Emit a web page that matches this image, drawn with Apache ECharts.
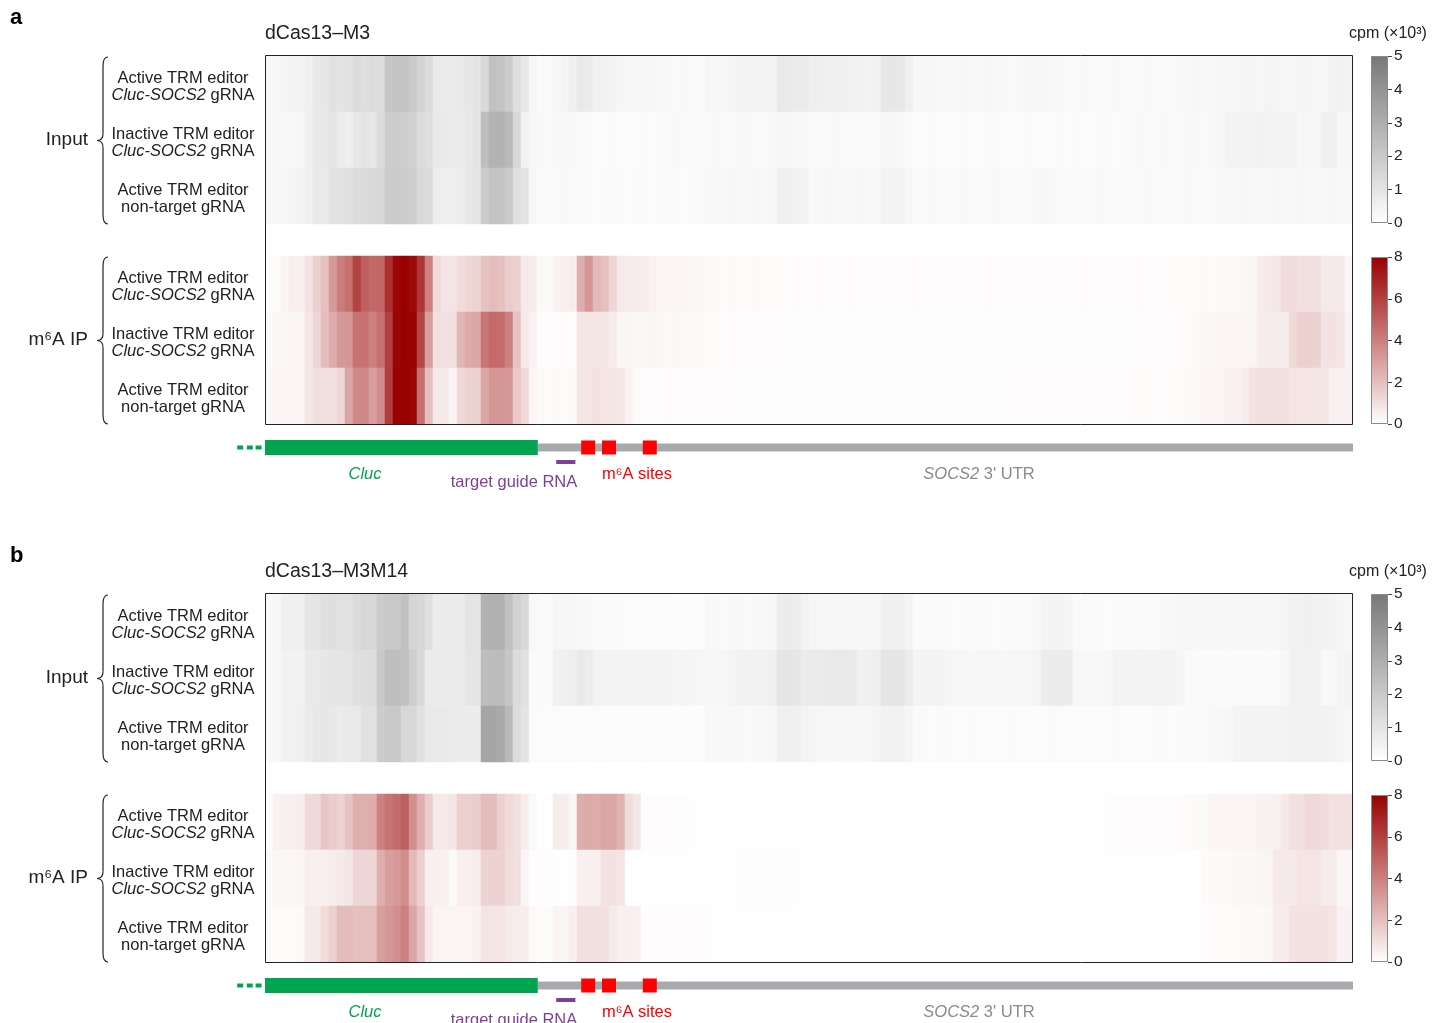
<!DOCTYPE html>
<html>
<head>
<meta charset="utf-8">
<title>dCas13–M3 / dCas13–M3M14 coverage</title>
<script src="https://cdn.jsdelivr.net/npm/echarts@6/dist/echarts.min.js"></script>
<style>
html, body { margin: 0; padding: 0; background: #ffffff; }
#chart { width: 1445px; height: 1023px; }
</style>
</head>
<body>
<div id="chart"></div>
<script>
// Coverage (cpm ×10³) in 136 equal bins along the Cluc–SOCS2 3' UTR reporter transcript.
const binCount = 136;

// ---- panel a: dCas13–M3 ----
const aInputActive = [
  0.3,0.35,0.4,0.4,0.45,0.55,0.8,0.9,1.1,1.0,1.1,1.3,1.2,1.3,1.3,2.1,2.2,2.2,2.0,1.6,1.3,0.8,0.7,0.7,0.8,0.9,1.0,1.4,2.3,2.2,1.9,1.2,0.9,0.35,0.2,0.2,0.3,0.4,0.55,0.8,0.75,0.55,0.5,0.4,0.35,0.35,0.3,0.35,0.3,0.25,0.25,0.2,0.25,0.2,0.2,
  0.35,0.35,0.35,0.4,0.4,0.45,0.45,0.4,0.45,0.85,0.8,0.75,0.75,0.6,0.6,0.55,0.55,0.55,0.5,0.5,0.45,0.5,0.9,0.9,0.85,0.6,0.3,0.3,0.3,0.25,
  0.25,0.25,0.3,0.25,0.25,0.3,0.25,0.25,0.2,0.25,0.3,0.35,0.3,0.25,0.25,0.2,0.2,0.25,0.2,0.2,0.2,0.25,0.2,0.2,0.2,0.25,0.2,0.2,0.2,
  0.25,0.25,0.3,0.25,0.25,0.3,0.35,0.35,0.4,0.35,0.35,0.4,0.35,0.35,0.35,0.4,0.35,0.35,0.35,0.45,0.5,0.45
];
const aInputInactive = [
  0.35,0.3,0.25,0.25,0.35,0.6,0.8,0.85,0.95,0.7,0.6,0.9,1.0,0.9,1.3,1.9,1.9,1.8,1.7,1.3,1.2,0.85,0.8,0.75,0.7,0.85,1.0,2.4,2.8,2.8,2.6,1.5,0.5,0.3,0.25,0.2,0.25,0.25,0.25,0.2,0.2,0.15,0.15,0.2,0.15,0.15,0.15,0.2,0.15,0.2,0.2,0.25,0.2,0.2,0.2,
  0.2,0.25,0.2,0.2,0.25,0.25,0.2,0.2,0.25,0.3,0.3,0.25,0.25,0.2,0.2,0.2,0.25,0.2,0.2,0.2,0.2,0.2,0.3,0.3,0.25,0.2,
  0.15,0.15,0.2,0.15,0.15,0.15,0.2,0.15,0.15,0.2,0.2,0.15,0.15,0.15,0.2,0.15,0.15,0.15,0.2,
  0.15,0.2,0.15,0.15,0.2,0.2,0.15,0.2,0.2,0.25,0.2,0.2,0.25,0.2,0.2,0.25,0.25,0.2,0.25,0.3,
  0.45,0.45,0.4,0.45,0.5,0.45,0.4,0.45,0.4,0.3,0.3,0.35,0.55,0.55,0.3,0.3
];
const aInputNonTarget = [
  0.3,0.35,0.35,0.4,0.4,0.55,0.8,0.8,1.05,1.1,1.2,1.3,1.35,1.4,1.5,1.9,1.95,1.9,1.8,1.4,1.3,0.65,0.6,0.6,0.65,0.9,0.95,1.9,2.2,2.2,2.0,1.2,1.0,0.3,0.2,0.2,0.2,0.25,0.2,0.2,0.2,0.15,0.2,0.2,0.2,0.15,0.2,0.2,0.15,0.2,0.2,0.2,0.15,0.2,0.2,
  0.25,0.25,0.25,0.3,0.25,0.25,0.3,0.25,0.3,0.55,0.55,0.5,0.45,0.25,0.25,0.3,0.25,0.25,0.25,0.3,0.25,0.25,0.45,0.45,0.4,0.3,
  0.2,0.2,0.25,0.2,0.2,0.2,0.25,0.2,0.2,0.2,0.25,0.2,0.2,0.2,0.2,0.25,0.3,0.25,0.2,0.2,
  0.2,0.2,0.2,0.25,0.2,0.2,0.2,0.2,0.2,0.25,0.2,0.2,0.2,0.2,0.25,0.2,0.2,0.2,0.25,0.25,
  0.25,0.3,0.25,0.25,0.25,0.3,0.25,0.25,0.3,0.25,0.25,0.25,0.3,0.25,0.25
];
const aIpActive = [
  0.1,0.15,0.3,0.5,0.5,0.9,1.5,2.0,3.2,4.1,4.5,5.9,5.0,4.7,4.8,6.5,7.8,8.0,7.7,6.3,4.0,1.2,0.85,0.85,1.1,1.3,1.4,1.9,2.1,2.0,1.6,1.5,0.7,0.6,0.2,0.2,0.4,0.5,0.6,2.5,3.3,2.2,2.0,1.3,0.7,0.65,0.6,0.55,0.4,0.35,0.35,0.3,0.3,0.25,0.25,
  0.2,0.2,0.15,0.2,0.15,0.15,0.2,0.15,0.15,0.15,0.1,0.15,0.1,0.1,0.15,0.1,0.1,0.1,0.15,0.1,
  0.1,0.1,0.1,0.1,0.1,0.1,0.15,0.1,0.1,0.1,0.1,0.1,0.1,0.1,0.1,0.15,0.1,0.1,0.1,0.1,
  0.1,0.1,0.1,0.1,0.1,0.1,0.1,0.15,0.1,0.1,0.1,0.1,0.1,0.1,0.15,0.1,0.1,0.1,0.15,0.15,
  0.15,0.15,0.2,0.15,0.2,0.2,0.2,0.25,0.3,0.6,0.7,0.75,1.1,1.1,1.0,1.0,1.0,0.7,0.7,0.7,0.3
];
const aIpInactive = [
  0.2,0.25,0.25,0.3,0.35,0.8,1.3,2.1,2.6,3.2,3.3,4.4,4.4,4.0,4.5,6.0,7.8,8.0,7.9,5.8,3.0,1.0,0.95,1.0,2.3,2.7,2.8,4.3,4.7,4.6,4.0,1.9,0.7,0.4,0.1,0.1,0.1,0.15,0.1,0.85,0.8,0.85,0.8,0.6,0.3,0.3,0.25,0.25,0.3,0.25,0.2,0.25,0.2,0.2,0.2,
  0.15,0.15,0.1,0.15,0.1,0.1,0.1,0.1,0.1,0.1,0.05,0.1,0.05,0.05,0.05,0.1,0.05,0.05,0.05,0.05,
  0.05,0.05,0.05,0.05,0.05,0.05,0.05,0.05,0.05,0.05,0.05,0.05,0.05,0.05,0.05,0.05,0.05,0.05,0.05,0.05,
  0.05,0.05,0.05,0.05,0.05,0.05,0.05,0.05,0.05,0.05,0.05,0.05,0.05,0.1,0.1,0.1,0.1,0.1,0.1,0.15,
  0.15,0.2,0.25,0.25,0.3,0.3,0.3,0.3,0.35,0.55,0.6,0.6,0.6,1.2,1.5,1.5,1.4,0.9,0.9,0.8,0.4
];
const aIpNonTarget = [
  0.25,0.3,0.3,0.3,0.35,0.8,1.0,1.0,1.0,1.3,2.8,3.7,3.7,3.0,3.6,6.1,7.9,8.0,7.8,4.5,2.0,0.7,0.7,0.35,1.2,1.4,1.4,2.8,3.3,3.3,3.2,1.7,1.2,0.3,0.15,0.15,0.2,0.15,0.2,0.85,0.85,0.9,0.85,0.8,0.75,0.4,0.15,0.1,0.1,0.1,0.15,0.1,0.1,0.1,0.1,
  0.1,0.1,0.1,0.1,0.05,0.05,0.05,0.05,0.05,0.05,0.05,0.05,0.05,0.05,0.05,0.05,0.05,0.05,0.05,0.05,
  0.05,0.05,0.05,0.05,0.05,0.05,0.05,0.05,0.05,0.05,0.05,0.05,0.05,0.05,0.05,0.05,0.05,0.1,0.1,0.1,
  0.1,0.1,0.1,0.1,0.1,0.1,0.1,0.1,0.1,0.1,0.1,0.1,0.1,0.15,0.15,0.15,0.1,0.1,0.15,0.15,
  0.2,0.2,0.3,0.3,0.35,0.4,0.4,0.6,0.9,1.0,1.0,1.0,1.0,0.85,0.85,0.85,0.85,0.8,0.5,0.4,0.4
];

// ---- panel b: dCas13–M3M14 ----
const bInputActive = [
  0.25,0.3,0.55,0.55,0.55,0.95,1.0,1.15,1.2,1.1,1.1,1.3,1.5,1.5,1.9,2.0,2.0,2.3,1.6,1.5,1.2,0.7,0.7,0.7,0.75,1.0,1.0,2.8,2.9,2.9,2.3,1.7,1.4,0.25,0.2,0.2,0.35,0.35,0.3,0.25,0.25,0.2,0.2,0.2,0.2,0.15,0.15,0.15,0.15,0.15,0.15,0.1,0.1,0.1,0.1,
  0.25,0.25,0.2,0.25,0.25,0.2,0.25,0.25,0.3,0.7,0.7,0.65,0.5,0.35,0.35,0.3,0.35,0.35,0.3,0.35,0.35,0.35,0.55,0.55,0.55,0.4,
  0.2,0.2,0.2,0.2,0.2,0.15,0.2,0.2,0.2,0.2,0.15,0.2,0.2,0.2,0.2,0.25,0.4,0.4,0.4,0.35,
  0.2,0.2,0.2,0.2,0.15,0.2,0.2,0.2,0.2,0.2,0.2,0.25,0.25,
  0.35,0.35,0.3,0.35,0.35,0.35,0.3,0.35,0.35,0.35,0.35,0.3,0.35,0.4,0.5,0.5,0.55,0.5,0.5,0.45,0.35,0.35
];
const bInputInactive = [
  0.25,0.3,0.5,0.5,0.5,0.8,0.8,0.9,0.95,0.95,1.0,1.2,1.2,1.25,2.0,2.4,2.4,2.3,1.8,1.4,0.75,0.7,0.7,0.7,0.75,0.95,0.95,2.4,2.5,2.5,2.1,1.3,1.1,0.2,0.2,0.2,0.55,0.55,0.6,0.8,0.65,0.5,0.45,0.45,0.45,0.45,0.4,0.4,0.4,0.4,0.4,0.35,0.4,0.35,0.35,
  0.35,0.35,0.35,0.4,0.5,0.5,0.5,0.5,0.55,0.95,0.95,0.9,0.75,0.75,0.75,0.8,0.8,0.8,0.8,0.55,0.55,0.6,0.95,0.95,0.95,0.7,
  0.4,0.4,0.4,0.4,0.35,0.35,0.35,0.3,0.35,0.35,0.35,0.3,0.35,0.35,0.35,0.4,0.7,0.7,0.7,0.7,
  0.25,0.25,0.25,0.25,0.3,0.45,0.45,0.45,0.4,0.45,0.45,0.45,0.45,0.35,
  0.2,0.2,0.2,0.2,0.2,0.2,0.2,0.2,0.2,0.2,0.2,0.2,0.3,0.5,0.5,0.5,0.5,0.25,0.25,0.4,0.4
];
const bInputNonTarget = [
  0.25,0.3,0.5,0.5,0.55,0.75,0.9,0.9,0.85,0.75,0.8,0.8,1.1,1.1,1.9,2.0,2.0,1.5,1.5,1.1,0.8,0.8,0.8,0.75,0.7,0.7,0.7,3.3,3.3,3.2,2.6,1.3,1.0,
  0.2,0.15,0.15,0.15,0.15,0.15,0.1,0.1,0.15,0.15,0.1,0.1,0.1,0.1,0.15,0.1,0.1,0.1,0.1,0.1,0.1,0.1,
  0.25,0.25,0.25,0.25,0.25,0.2,0.25,0.25,0.3,0.55,0.55,0.55,0.45,0.35,0.35,0.3,0.35,0.35,0.35,0.3,0.35,0.4,0.5,0.5,0.5,0.35,
  0.2,0.2,0.15,0.2,0.2,0.15,0.15,0.2,0.15,0.15,0.15,0.15,0.2,0.15,0.15,0.15,0.15,0.2,0.15,0.15,
  0.15,0.15,0.15,0.15,0.15,0.2,0.15,0.15,0.15,0.15,0.2,0.2,0.15,0.2,0.2,0.2,0.2,0.25,0.25,0.3,
  0.4,0.4,0.4,0.4,0.4,0.4,0.45,0.5,0.5,0.5,0.5,0.5,0.45,0.35,0.35
];
const bIpActive = [
  0.1,0.4,0.5,0.5,0.55,1.2,1.2,1.8,1.6,1.4,1.9,2.5,2.5,2.6,4.0,4.4,4.6,5.0,3.5,2.5,1.6,0.7,0.7,0.8,1.5,1.5,1.6,2.1,2.1,1.5,1.2,1.0,0.55,0.2,0.02,0.02,0.6,0.55,0.3,2.6,2.7,2.6,2.8,2.8,2.4,1.1,0.8,0.1,0.1,0.1,0.1,0.1,0.05,0.02,0.02,
  0.03,0.03,0.02,0.02,0.02,0.03,0.02,0.02,0.02,0.02,0.02,0.02,0.02,0.02,0.02,0.02,0.02,0.02,0.02,0.02,
  0.02,0.02,0.02,0.02,0.02,0.02,0.02,0.02,0.02,0.02,0.02,0.02,0.02,0.02,0.02,0.02,0.02,0.02,0.02,0.02,
  0.02,0.02,0.02,0.02,0.03,0.03,0.02,0.02,0.03,0.03,
  0.05,0.08,0.08,0.08,0.08,0.08,0.08,0.08,0.08,0.12,0.15,0.2,0.2,
  0.3,0.3,0.3,0.35,0.35,0.35,0.4,0.4,0.45,0.7,1.0,1.0,1.2,1.2,1.1,0.95,0.95,0.95
];
const bIpInactive = [
  0.2,0.25,0.25,0.25,0.3,0.5,0.5,0.5,0.55,0.7,0.8,1.3,1.3,1.3,2.5,3.0,3.2,3.6,2.2,1.5,0.5,0.5,0.45,0.15,0.5,0.5,0.55,1.4,1.4,1.4,1.1,1.0,0.3,0.1,0.1,0.05,0.02,0.02,0.05,0.5,0.5,0.5,0.9,0.9,0.85,0.02,0.02,0.02,0.02,0.02,0.02,0.02,0.02,0.02,0.02,
  0.03,0.03,0.03,0.03,0.06,0.06,0.06,0.06,0.06,0.06,0.06,0.03,0.03,0.03,0.03,0.03,0.03,0.03,0.03,0.03,
  0.03,0.03,0.03,0.03,0.03,0.03,0.03,0.03,0.03,0.03,0.03,0.03,0.03,0.03,0.03,0.03,0.03,0.03,0.03,0.03,
  0.03,0.03,0.03,0.03,0.03,0.03,0.03,0.03,0.03,0.03,0.03,0.03,0.03,0.03,0.03,0.03,0.03,0.03,0.03,0.03,
  0.03,0.03,
  0.15,0.2,0.2,0.2,0.25,0.25,0.25,0.3,0.35,0.7,0.7,0.7,0.85,0.85,0.85,0.6,0.6,0.3,0.3
];
const bIpNonTarget = [
  0.15,0.15,0.15,0.15,0.2,0.7,0.7,1.1,1.5,2.1,2.1,2.0,2.0,2.0,3.0,3.3,3.5,4.0,2.8,1.9,0.7,0.35,0.35,0.35,0.35,0.35,0.4,0.85,0.85,0.85,0.65,0.55,0.55,0.2,0.15,0.15,0.35,0.35,0.5,1.0,1.0,1.0,1.0,0.7,0.5,0.5,0.45,0.1,0.1,0.1,0.1,0.1,0.1,0.1,0.1,
  0.03,0.02,0.02,0.02,0.02,0.02,0.02,0.02,0.02,0.02,0.02,0.02,0.02,0.02,0.02,0.02,0.02,0.02,0.02,0.02,
  0.02,0.02,0.02,0.02,0.02,0.02,0.02,0.02,0.02,0.02,0.02,0.02,0.02,0.02,0.02,0.02,0.02,0.02,0.02,0.02,
  0.02,0.02,0.02,0.02,0.02,0.02,0.02,0.02,0.02,0.02,0.02,0.02,0.02,0.02,0.02,0.02,0.02,0.02,0.02,0.02,
  0.02,0.02,
  0.1,0.15,0.15,0.15,0.15,0.2,0.2,0.2,0.25,0.6,0.6,0.9,0.9,0.9,0.9,0.9,0.85,0.4,0.4
];

// Row labels and colour-scale ranges
const inputRowLabels = ['Active TRM editor\n{i|Cluc-SOCS2} gRNA', 'Inactive TRM editor\n{i|Cluc-SOCS2} gRNA', 'Active TRM editor\nnon-target gRNA'];
const ipRowLabels = inputRowLabels;
const inputScale = [0, 5, 1];   // min, max, tick step (cpm ×10³)
const ipScale = [0, 8, 2];

// Transcript features, in bin units
const clucSpan = [0, 34.1];
const utrSpan = [34.1, 136];
const guideSpan = [36.4, 38.8];
const m6aSites = [40.4, 43.0, 48.1];
const leaderDots = [-3.1, -1.9, -0.8];

const panels = [
  { tag: 'a', title: 'dCas13–M3', dy: 0,
    input: [aInputActive, aInputInactive, aInputNonTarget], ip: [aIpActive, aIpInactive, aIpNonTarget] },
  { tag: 'b', title: 'dCas13–M3M14', dy: 538,
    input: [bInputActive, bInputInactive, bInputNonTarget], ip: [bIpActive, bIpInactive, bIpNonTarget] }
];

const FONT = "'Liberation Sans', Arial, Helvetica, sans-serif";
const INK = '#222222';
const binAxis = Array.from({ length: binCount }, (_, i) => i);

const grids = [], xAxes = [], yAxes = [], series = [], graphics = [];
const inputSeriesIdx = [], ipSeriesIdx = [];

function toCells(rows) {
  const out = [];
  rows.forEach((row, r) => row.forEach((v, c) => out.push([c, r, v])));
  return out;
}

function rowAxis(gi, labels) {
  return {
    type: 'category', gridIndex: gi, data: ['r0', 'r1', 'r2'], inverse: true,
    axisLine: { show: false }, axisTick: { show: false }, splitLine: { show: false },
    axisLabel: {
      formatter: (v, i) => labels[i], align: 'center', margin: 82, padding: [5, 0, 0, 0],
      fontFamily: FONT, fontSize: 16.5, lineHeight: 17, color: INK,
      rich: { i: { fontStyle: 'italic', fontFamily: FONT, fontSize: 16.5, lineHeight: 17, color: INK } }
    }
  };
}

function scaleBar(gi, scale, topColor) {
  xAxes.push({ type: 'category', gridIndex: gi, data: ['cpm'], show: false });
  yAxes.push({
    type: 'value', gridIndex: gi, min: scale[0], max: scale[1], interval: scale[2], position: 'right',
    axisLine: { show: false }, splitLine: { show: false },
    axisTick: { show: true, length: 4, lineStyle: { color: '#444', width: 1 } },
    axisLabel: { fontFamily: FONT, fontSize: 15.5, color: INK, margin: 6 }
  });
  series.push({
    type: 'bar', xAxisIndex: gi, yAxisIndex: gi, data: [scale[1]], barWidth: '100%', silent: true,
    itemStyle: {
      color: { type: 'linear', x: 0, y: 0, x2: 0, y2: 1,
        colorStops: [{ offset: 0, color: topColor }, { offset: 1, color: '#ffffff' }] },
      borderColor: '#8a8a8a', borderWidth: 1
    }
  });
}

function renderTrack(params, api) {
  const kind = api.value(2);
  const a = api.coord([api.value(0), 0.5]);
  const b = api.coord([api.value(1), 0.5]);
  const cy = a[1];
  if (kind === 0) return { type: 'rect', shape: { x: a[0], y: cy - 4, width: b[0] - a[0], height: 8 }, style: { fill: '#a7a9ac' } };
  if (kind === 1) return { type: 'rect', shape: { x: a[0], y: cy - 7.5, width: b[0] - a[0], height: 15 }, style: { fill: '#00a54f' } };
  if (kind === 2) return { type: 'rect', shape: { x: a[0], y: cy + 12.5, width: b[0] - a[0], height: 4 }, style: { fill: '#7e3f98' } };
  if (kind === 3) return { type: 'rect', shape: { x: a[0] - 7, y: cy - 7, width: 14, height: 14 }, style: { fill: '#ff0000' } };
  return { type: 'rect', shape: { x: a[0] - 3, y: cy - 2, width: 6, height: 4 }, style: { fill: '#00a54f' } };
}

const trackData = [
  [utrSpan[0], utrSpan[1], 0],
  [clucSpan[0], clucSpan[1], 1],
  [guideSpan[0], guideSpan[1], 2],
  ...m6aSites.map(s => [s, s, 3]),
  ...leaderDots.map(s => [s, s, 4])
];

// curly brace built from bezier and line pieces
function brace(y0, y1) {
  const ym = (y0 + y1) / 2;
  const st = { fill: 'none', stroke: INK, lineWidth: 1.2 };
  const bz = (x1, y1_, cpx1, cpy1, cpx2, cpy2, x2, y2) =>
    ({ type: 'bezierCurve', z: 50, silent: true, shape: { x1, y1: y1_, cpx1, cpy1, cpx2, cpy2, x2, y2 }, style: st });
  const ln = (x1, y1_, x2, y2) => ({ type: 'line', z: 50, silent: true, shape: { x1, y1: y1_, x2, y2 }, style: st });
  return [
    bz(108, y0, 104, y0, 103, y0 + 3, 103, y0 + 9),
    ln(103, y0 + 9, 103, ym - 7),
    bz(103, ym - 7, 103, ym - 3, 101, ym, 97, ym),
    bz(97, ym, 101, ym, 103, ym + 3, 103, ym + 7),
    ln(103, ym + 7, 103, y1 - 9),
    bz(103, y1 - 9, 103, y1 - 3, 104, y1, 108, y1)
  ];
}

function text(x, y, str, opt) {
  return {
    type: 'text', x, y, z: 50, silent: true,
    style: Object.assign({ text: str, fontFamily: FONT, fontSize: 16.5, fill: INK, align: 'center', verticalAlign: 'middle' }, opt || {})
  };
}

panels.forEach((p, k) => {
  const dy = p.dy;
  const g0 = k * 5;
  const common = { containLabel: false, show: false };

  // input heatmap
  grids.push(Object.assign({ left: 265, top: 56 + dy, width: 1088, height: 168 }, common));
  xAxes.push({ type: 'category', gridIndex: g0, data: binAxis, show: false });
  yAxes.push(rowAxis(g0, inputRowLabels));
  inputSeriesIdx.push(series.length);
  series.push({ type: 'heatmap', xAxisIndex: g0, yAxisIndex: g0, data: toCells(p.input), progressive: 0, emphasis: { disabled: true } });

  // m6A IP heatmap
  grids.push(Object.assign({ left: 265, top: 256 + dy, width: 1088, height: 168 }, common));
  xAxes.push({ type: 'category', gridIndex: g0 + 1, data: binAxis, show: false });
  yAxes.push(rowAxis(g0 + 1, ipRowLabels));
  ipSeriesIdx.push(series.length);
  series.push({ type: 'heatmap', xAxisIndex: g0 + 1, yAxisIndex: g0 + 1, data: toCells(p.ip), progressive: 0, emphasis: { disabled: true } });

  // colour scales
  grids.push(Object.assign({ left: 1371, top: 56 + dy, width: 17, height: 167 }, common));
  scaleBar(g0 + 2, inputScale, '#787878');
  grids.push(Object.assign({ left: 1371, top: 257 + dy, width: 17, height: 167 }, common));
  scaleBar(g0 + 3, ipScale, '#990000');

  // transcript track
  grids.push(Object.assign({ left: 265, top: 440 + dy, width: 1088, height: 15 }, common));
  xAxes.push({ type: 'value', gridIndex: g0 + 4, min: 0, max: binCount, show: false });
  yAxes.push({ type: 'value', gridIndex: g0 + 4, min: 0, max: 1, show: false });
  series.push({ type: 'custom', xAxisIndex: g0 + 4, yAxisIndex: g0 + 4, data: trackData, renderItem: renderTrack, clip: false, silent: true });

  // frame around both heatmaps
  graphics.push({ type: 'rect', z: 100, silent: true,
    shape: { x: 265.5, y: 55.5 + dy, width: 1087, height: 369 },
    style: { fill: 'none', stroke: INK, lineWidth: 1 } });

  // braces and group labels
  graphics.push(...brace(57 + dy, 224 + dy));
  graphics.push(...brace(257 + dy, 424 + dy));
  graphics.push(text(88, 140 + dy, 'Input', { fontSize: 19, align: 'right' }));
  graphics.push(text(88, 340 + dy, 'm⁶A IP', { fontSize: 19, align: 'right' }));

  // headings
  graphics.push(text(10, 18 + dy, p.tag, { fontSize: 22, fontWeight: 'bold', align: 'left', fill: '#000' }));
  graphics.push(text(265, 34 + dy, p.title, { fontSize: 19.5, align: 'left' }));
  graphics.push(text(1388, 34 + dy, 'cpm (×10³)', { fontSize: 16 }));

  // feature labels
  graphics.push(text(365, 474 + dy, 'Cluc', { fontStyle: 'italic', fill: '#00a54f' }));
  graphics.push(text(514, 482 + dy, 'target guide RNA', { fill: '#7e3f98' }));
  graphics.push(text(637, 474 + dy, 'm⁶A sites', { fill: '#ff0000' }));
  graphics.push(text(979, 474 + dy, '{i|SOCS2} 3\' UTR', {
    fill: '#8a8a8a',
    rich: { i: { fontStyle: 'italic', fontFamily: FONT, fontSize: 16.5, fill: '#8a8a8a' } }
  }));
});

const chart = echarts.init(document.getElementById('chart'), null, { renderer: 'canvas' });
chart.setOption({
  animation: false,
  backgroundColor: '#ffffff',
  grid: grids,
  xAxis: xAxes,
  yAxis: yAxes,
  visualMap: [
    { type: 'continuous', show: false, min: inputScale[0], max: inputScale[1], seriesIndex: inputSeriesIdx,
      inRange: { color: ['#ffffff', '#787878'] } },
    { type: 'continuous', show: false, min: ipScale[0], max: ipScale[1], seriesIndex: ipSeriesIdx,
      inRange: { color: ['#ffffff', '#990000'] } }
  ],
  series: series,
  graphic: graphics
});
</script>
</body>
</html>
